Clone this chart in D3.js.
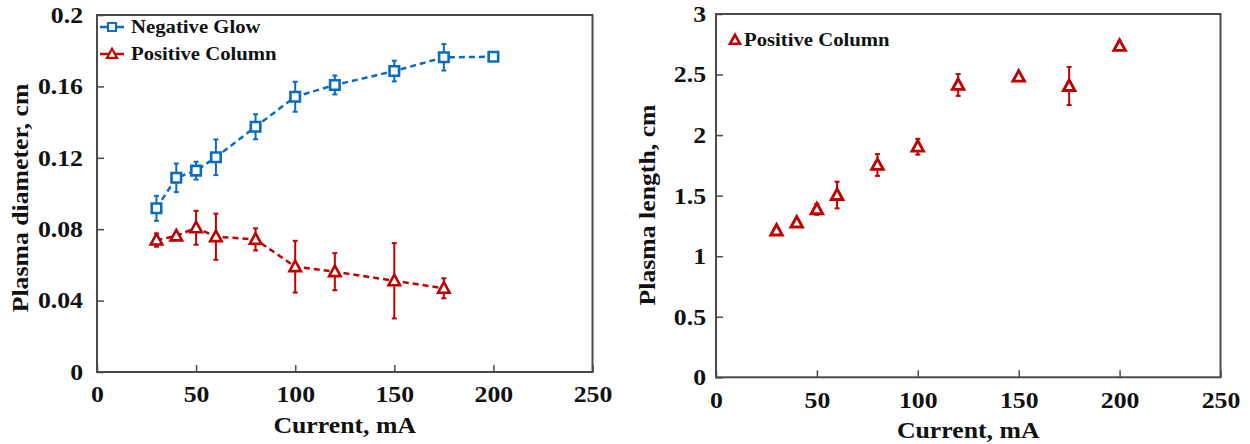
<!DOCTYPE html>
<html>
<head>
<meta charset="utf-8">
<script src="https://cdn.jsdelivr.net/npm/d3@7/dist/d3.min.js"></script>
<style>
  html, body { margin: 0; padding: 0; background: #fff; }
  svg { display: block; }
  text { font-family: "Liberation Serif", "Times New Roman", serif; font-weight: bold; fill: #111; }
</style>
</head>
<body>
<svg id="chart" width="1250" height="444"></svg>
<script>
// Discharge current (mA) for each measurement
const glowCurrents = [30, 40, 50, 60, 80, 100, 120, 150, 175, 200];
const glowDiameter = [0.0917, 0.1088, 0.1128, 0.1203, 0.1374, 0.1542, 0.1608, 0.1686, 0.1763, 0.1766];
const glowDiameterErr = [0.007, 0.008, 0.005, 0.010, 0.007, 0.0084, 0.0053, 0.0058, 0.0074, 0];

const columnCurrents = [30, 40, 50, 60, 80, 100, 120, 150, 175];
const columnDiameter = [0.0739, 0.0762, 0.0808, 0.0758, 0.0743, 0.0590, 0.0562, 0.0511, 0.0469];
const columnDiameterErr = [0.0037, 0.0015, 0.0095, 0.0129, 0.0062, 0.0145, 0.0104, 0.0211, 0.0056];

const lengthCurrents = [30, 40, 50, 60, 80, 100, 120, 150, 175, 200];
const columnLength = [1.211, 1.277, 1.387, 1.505, 1.753, 1.904, 2.414, 2.482, 2.405, 2.736];
const columnLengthErr = [0, 0, 0.045, 0.11, 0.09, 0.065, 0.09, 0, 0.157, 0.035];

const currentTicks = [0, 50, 100, 150, 200, 250];
const diameterTicks = [0, 0.04, 0.08, 0.12, 0.16, 0.2];
const diameterTickLabels = ["0", "0.04", "0.08", "0.12", "0.16", "0.2"];
const lengthTicks = [0, 0.5, 1, 1.5, 2, 2.5, 3];
const lengthTickLabels = ["0", "0.5", "1", "1.5", "2", "2.5", "3"];

const BLUE = "#0a6cc0";
const RED = "#c00000";
const FRAME = "#4a4a4a";
const TEXT_WIDEN = 1.12;   // the serif face is drawn a little wider than its natural width

const svg = d3.select("#chart");

function squarePath(s) {
  const h = s / 2;
  return `M${-h},${-h}H${h}V${h}H${-h}Z`;
}
function trianglePath(w, ht) {
  return `M0,${-ht * 0.58}L${w / 2},${ht * 0.42}L${-w / 2},${ht * 0.42}Z`;
}

function panel(opt) {
  const x = d3.scaleLinear().domain([0, 250]).range([opt.left, opt.right]);
  const y = d3.scaleLinear().domain(opt.yDomain).range([opt.bottom, opt.top]);
  const g = svg.append("g");

  // Y axis (ticks point inward)
  const yAxis = d3.axisLeft(y)
    .tickValues(opt.yTicks)
    .tickFormat((d, i) => opt.yLabels[i])
    .tickSizeInner(-7).tickSizeOuter(0).tickPadding(opt.yPad);
  const ya = g.append("g").attr("transform", `translate(${opt.left},0)`).call(yAxis);

  // X axis
  const xAxis = d3.axisBottom(x)
    .tickValues(currentTicks)
    .tickSizeInner(-7).tickSizeOuter(0).tickPadding(14);
  const xa = g.append("g").attr("transform", `translate(0,${opt.bottom})`).call(xAxis);

  [ya, xa].forEach(a => {
    a.select(".domain").remove();
    a.selectAll(".tick line").attr("stroke", FRAME).attr("stroke-width", 1.5);
    a.selectAll(".tick text")
      .attr("font-family", "Liberation Serif, Times New Roman, serif")
      .attr("font-weight", "bold")
      .attr("font-size", 23)
      .attr("fill", "#111");
  });

  // Plot frame
  g.append("rect")
    .attr("x", opt.left).attr("y", opt.top)
    .attr("width", opt.right - opt.left).attr("height", opt.bottom - opt.top)
    .attr("fill", "none").attr("stroke", FRAME).attr("stroke-width", 2);

  // Axis titles
  g.append("text")
    .attr("x", (opt.left + opt.right) / 2).attr("y", opt.bottom + 61)
    .attr("text-anchor", "middle").attr("font-size", 23)
    .text("Current, mA");
  g.append("text")
    .attr("transform", `translate(${opt.yTitleX},${opt.yTitleY}) rotate(-90)`)
    .attr("text-anchor", "middle").attr("font-size", 23)
    .text(opt.yTitle);

  opt.series.forEach(s => {
    const pts = s.xs.map((c, i) => ({ c, v: s.vs[i], e: s.es[i] }));
    if (s.dashed) {
      g.append("path")
        .datum(pts)
        .attr("fill", "none").attr("stroke", s.color)
        .attr("stroke-width", 2.5).attr("stroke-dasharray", "6,4")
        .attr("d", d3.line().x(d => x(d.c)).y(d => y(d.v)));
    }
    // Error bars
    const eb = g.append("g").attr("stroke", s.color).attr("stroke-width", 2);
    pts.filter(d => d.e > 0).forEach(d => {
      const cx = x(d.c), y0 = y(d.v - d.e), y1 = y(d.v + d.e);
      eb.append("line").attr("x1", cx).attr("x2", cx).attr("y1", y0).attr("y2", y1);
      eb.append("line").attr("x1", cx - 2.5).attr("x2", cx + 2.5).attr("y1", y0).attr("y2", y0);
      eb.append("line").attr("x1", cx - 2.5).attr("x2", cx + 2.5).attr("y1", y1).attr("y2", y1);
    });
    // Markers
    g.append("g").selectAll("path.m").data(pts).join("path")
      .attr("transform", d => `translate(${x(d.c)},${y(d.v)})`)
      .attr("d", s.marker)
      .attr("fill", "#fff").attr("stroke", s.color).attr("stroke-width", s.markerStroke);
  });

  // Legend
  opt.legend.forEach(l => {
    if (l.line) {
      g.append("line").attr("x1", l.x - 12).attr("x2", l.x + 12)
        .attr("y1", l.y).attr("y2", l.y)
        .attr("stroke", l.color).attr("stroke-width", 2.5);
    }
    g.append("path").attr("transform", `translate(${l.x},${l.y})`)
      .attr("d", l.marker).attr("fill", "#fff")
      .attr("stroke", l.color).attr("stroke-width", l.markerStroke);
    g.append("text").attr("x", l.tx).attr("y", l.y).attr("dy", "0.34em")
      .attr("font-size", 18.5).text(l.text);
  });
}

// Plasma diameter vs current
panel({
  left: 97, right: 592.5, top: 15, bottom: 372,
  yDomain: [0, 0.2], yTicks: diameterTicks, yLabels: diameterTickLabels, yPad: 14,
  yTitle: "Plasma diameter, cm", yTitleX: 28, yTitleY: 198,
  series: [
    { xs: glowCurrents, vs: glowDiameter, es: glowDiameterErr, color: BLUE, dashed: true,
      marker: squarePath(9.5), markerStroke: 2.6 },
    { xs: columnCurrents, vs: columnDiameter, es: columnDiameterErr, color: RED, dashed: true,
      marker: trianglePath(11.5, 10.5), markerStroke: 2.6 }
  ],
  legend: [
    { x: 112, y: 27, tx: 131, color: BLUE, line: true, marker: squarePath(8), markerStroke: 2.2, text: "Negative Glow" },
    { x: 112, y: 54, tx: 131, color: RED, line: true, marker: trianglePath(10, 9), markerStroke: 2.2, text: "Positive Column" }
  ]
});

// Plasma length vs current
panel({
  left: 716, right: 1220.5, top: 14, bottom: 377.3,
  yDomain: [0, 3], yTicks: lengthTicks, yLabels: lengthTickLabels, yPad: 10,
  yTitle: "Plasma length, cm", yTitleX: 655, yTitleY: 205,
  series: [
    { xs: lengthCurrents, vs: columnLength, es: columnLengthErr, color: RED, dashed: false,
      marker: trianglePath(11.5, 10.5), markerStroke: 2.9 }
  ],
  legend: [
    { x: 735, y: 40, tx: 744, color: RED, line: false, marker: trianglePath(10, 9), markerStroke: 2.6, text: "Positive Column" }
  ]
});

// Widen every label about its anchor point
svg.selectAll("text").each(function () {
  const w = this.getComputedTextLength();
  d3.select(this).attr("textLength", w * TEXT_WIDEN).attr("lengthAdjust", "spacingAndGlyphs");
});
</script>
</body>
</html>
